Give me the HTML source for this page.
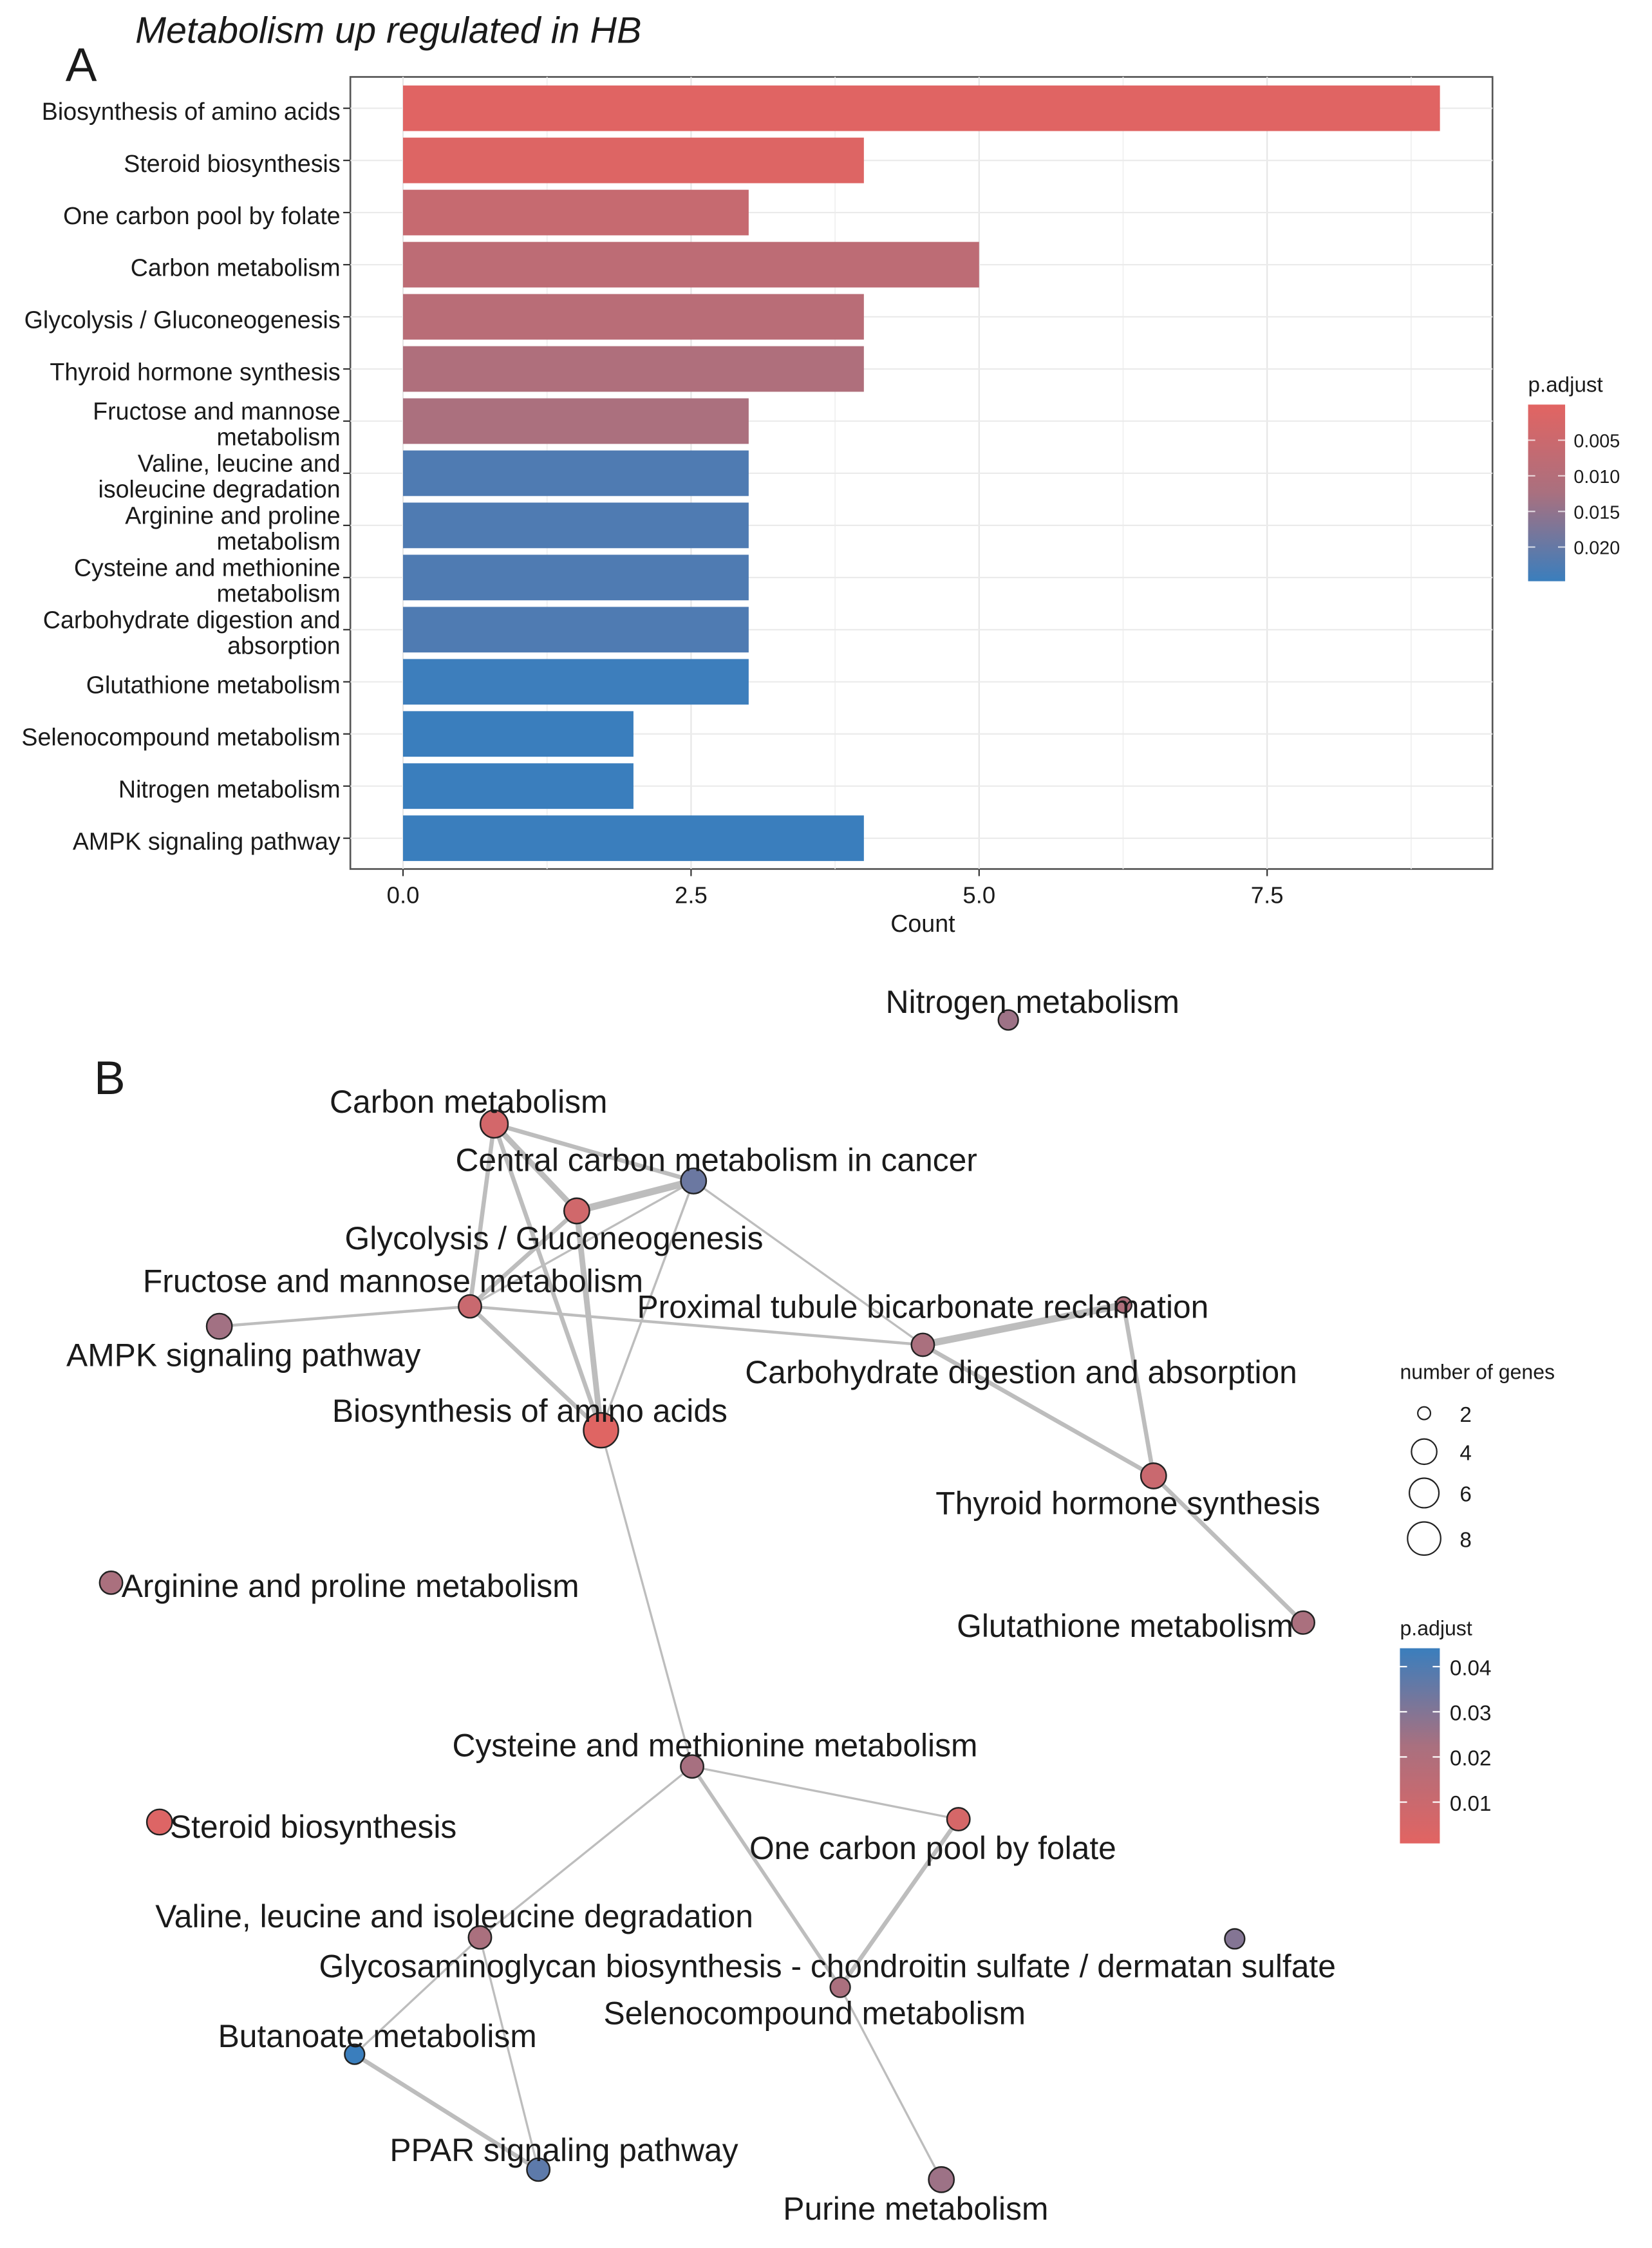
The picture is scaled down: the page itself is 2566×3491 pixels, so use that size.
<!DOCTYPE html>
<html><head><meta charset="utf-8"><style>
html,body{margin:0;padding:0;background:#fff}
svg{display:block}
text{font-family:"Liberation Sans",sans-serif;fill:#1a1a1a}
</style></head><body>
<svg id="fig" width="2566" height="3491" viewBox="0 0 1160 1578" preserveAspectRatio="none" xmlns="http://www.w3.org/2000/svg">
<defs>
<linearGradient id="gA" x1="0" y1="0" x2="0" y2="1"><stop offset="0" stop-color="#E26462"/><stop offset="0.5" stop-color="#A9707F"/><stop offset="1" stop-color="#3A7EBD"/></linearGradient>
<linearGradient id="gB" x1="0" y1="0" x2="0" y2="1"><stop offset="0" stop-color="#3A7EBD"/><stop offset="0.5" stop-color="#A9707F"/><stop offset="1" stop-color="#E26462"/></linearGradient>
</defs>
<text x="95" y="30" font-size="26" font-style="italic">Metabolism up regulated in HB</text>
<text x="46" y="57" font-size="33">A</text>
<rect x="246" y="54" width="802" height="556" fill="#fff" stroke="#555" stroke-width="1.2"/>
<g id="gridA"></g>
<g id="barsA"></g>
<text x="648" y="654" font-size="17" text-anchor="middle">Count</text>
<g>
<text x="1073" y="275" font-size="15">p.adjust</text>
<rect x="1073" y="284" width="26" height="124" fill="url(#gA)"/>
<g id="legAticks"></g>
</g>
<text x="66" y="768" font-size="33">B</text>
<g id="edges"></g>
<g id="nodes"></g>
<g>
<text x="983" y="968" font-size="14.5">number of genes</text>
<g id="sizeLeg"></g>
</g>
<g>
<text x="983" y="1148" font-size="14.5">p.adjust</text>
<rect x="983" y="1157" width="28" height="137" fill="url(#gB)"/>
<g id="legBticks"></g>
</g>
</svg>
<script>
const NS="http://www.w3.org/2000/svg";
const categories=["Biosynthesis of amino acids","Steroid biosynthesis","One carbon pool by folate","Carbon metabolism","Glycolysis / Gluconeogenesis","Thyroid hormone synthesis","Fructose and mannose|metabolism","Valine, leucine and|isoleucine degradation","Arginine and proline|metabolism","Cysteine and methionine|metabolism","Carbohydrate digestion and|absorption","Glutathione metabolism","Selenocompound metabolism","Nitrogen metabolism","AMPK signaling pathway"];
const counts=[9,4,3,5,4,4,3,3,3,3,3,3,2,2,4];
const padj=[0.0005,0.001,0.006,0.008,0.009,0.011,0.012,0.0225,0.0225,0.0225,0.0225,0.0245,0.025,0.025,0.025];
const xTicks=[0,2.5,5,7.5];
const xTickLabels=["0.0","2.5","5.0","7.5"];
const legATicks=[0.005,0.010,0.015,0.020];
const legATickLabels=["0.005","0.010","0.015","0.020"];

function mk(tag,attrs,parent){const e=document.createElementNS(NS,tag);for(const k in attrs)e.setAttribute(k,attrs[k]);parent.appendChild(e);return e;}
const xA=v=>283+v*80.9;
const yA=i=>76+i*36.6;
function lerp(a,b,t){return Math.round(a+(b-a)*t);}
function colA(p,maxp){const t=Math.max(0,Math.min(1,p/maxp));let c0=[226,100,98],c1=[169,112,127],c2=[58,126,189];let a,b,u;if(t<0.5){a=c0;b=c1;u=t*2}else{a=c1;b=c2;u=(t-0.5)*2}return `rgb(${lerp(a[0],b[0],u)},${lerp(a[1],b[1],u)},${lerp(a[2],b[2],u)})`;}

const grid=document.getElementById('gridA');
[1.25,3.75,6.25,8.75].forEach(v=>mk('line',{x1:xA(v),x2:xA(v),y1:54,y2:610,stroke:'#f0f0f0','stroke-width':0.8},grid));
xTicks.forEach((v,i)=>{mk('line',{x1:xA(v),x2:xA(v),y1:54,y2:610,stroke:'#e6e6e6','stroke-width':1},grid);
 mk('line',{x1:xA(v),x2:xA(v),y1:610,y2:615,stroke:'#333'},grid);
 const t=mk('text',{x:xA(v),y:634,'font-size':16.5,'text-anchor':'middle',fill:'#444'},grid);t.textContent=xTickLabels[i];});
const bars=document.getElementById('barsA');
categories.forEach((c,i)=>{mk('line',{x1:246,x2:1048,y1:yA(i),y2:yA(i),stroke:'#ebebeb'},grid);});
categories.forEach((c,i)=>{
 const r=mk('rect',{x:xA(0),y:yA(i)-16,width:xA(counts[i])-xA(0),height:32,fill:colA(padj[i],0.0248)},bars);
 
 
 mk('line',{x1:241,x2:246,y1:yA(i),y2:yA(i),stroke:'#333'},bars);
 const parts=c.split('|');
 parts.forEach((p,j)=>{const t=mk('text',{x:239,y:yA(i)+8+(parts.length==2?(j==0?-9:9):0),'font-size':17,'text-anchor':'end'},bars);t.textContent=p;
 
 });
});
const lat=document.getElementById('legAticks');
legATicks.forEach((v,i)=>{const y=284+v/0.005*25;mk('line',{x1:1073,x2:1078,y1:y,y2:y,stroke:'#fff','stroke-opacity':0.7},lat);mk('line',{x1:1094,x2:1099,y1:y,y2:y,stroke:'#fff','stroke-opacity':0.7},lat);
 const t=mk('text',{x:1105,y:y+5,'font-size':13},lat);t.textContent=legATickLabels[i];});

// network
const nodeNames=["Nitrogen metabolism","Carbon metabolism","Central carbon metabolism in cancer","Glycolysis / Gluconeogenesis","Fructose and mannose metabolism","AMPK signaling pathway","Proximal tubule bicarbonate reclamation","Carbohydrate digestion and absorption","Biosynthesis of amino acids","Thyroid hormone synthesis","Arginine and proline metabolism","Glutathione metabolism","Cysteine and methionine metabolism","Steroid biosynthesis","One carbon pool by folate","Valine, leucine and isoleucine degradation","Glycosaminoglycan biosynthesis - chondroitin sulfate / dermatan sulfate","Selenocompound metabolism","Butanoate metabolism","PPAR signaling pathway","Purine metabolism"];
const nodeX=[708,347,487,405,330,154,789,648,422,810,78,915,486,112,673,337,867,590,249,378,661];
const nodeY=[716,789,829,850,917,931,916,944,1004,1036,1111,1139,1240,1279,1277,1360,1361,1395,1442,1523,1530];
const nodeGenes=[2,5,4,4,3,4,1,3,9,4,3,3,3,4,3,3,2,2,2,3,4];
const nodePadj=[0.025,0.006,0.035,0.007,0.01,0.024,0.02,0.022,0.001,0.01,0.022,0.022,0.023,0.002,0.005,0.022,0.03,0.022,0.045,0.038,0.025];
const labelX=[725,329,503,389,276,171,648,717,372,792,246,790,502,220,655,319,581,572,265,396,643];
const labelY=[710,780,821,876,906,958,924,970,997,1062,1120,1148,1232,1289,1304,1352,1387,1420,1436,1516,1557];
const edgeFrom=[1,1,1,1,2,2,2,2,3,3,4,4,4,7,7,6,9,2,8,12,12,12,14,17,15,15,18];
const edgeTo=[2,3,4,8,3,8,4,7,8,4,5,7,8,6,9,9,11,8,12,14,15,17,17,20,18,19,19];
const edgeW=[3,4,3,3,5,1.5,1.5,1.5,4,3,2,2,3,5,3,3,3,1.5,1.5,1.5,1.5,2.5,3,1.5,1.5,1.5,3];

const eg=document.getElementById('edges');
edgeFrom.forEach((a,i)=>{const b=edgeTo[i];const l=mk('line',{x1:nodeX[a],y1:nodeY[a],x2:nodeX[b],y2:nodeY[b],stroke:'#bdbdbd','stroke-width':edgeW[i]},eg);
 
 });
const rad=g=>2.3+Math.sqrt(g)*3.3;
const ng=document.getElementById('nodes');
nodeNames.forEach((n,i)=>{
 const c=mk('circle',{cx:nodeX[i],cy:nodeY[i],r:rad(nodeGenes[i]),fill:colA(nodePadj[i],0.045),stroke:'#222','stroke-width':1.1},ng);
 
 
});
nodeNames.forEach((n,i)=>{
 const t=mk('text',{x:labelX[i],y:labelY[i]+1,'font-size':22.5,'text-anchor':'middle'},ng);t.textContent=n;
 
 
});
const sizeLegVals=[2,4,6,8];const sizeLegY=[992,1019,1048,1080];
const sl=document.getElementById('sizeLeg');
sizeLegVals.forEach((v,i)=>{mk('circle',{cx:1000,cy:sizeLegY[i],r:rad(v)-(i==0?2.5:0),fill:'none',stroke:'#222'},sl);const t=mk('text',{x:1025,y:sizeLegY[i]+6,'font-size':15},sl);t.textContent=v;});
const legBTicks=[0.04,0.03,0.02,0.01];
const lbt=document.getElementById('legBticks');
legBTicks.forEach(v=>{const y=1265-(v-0.01)/0.01*31.7;mk('line',{x1:983,x2:988,y1:y,y2:y,stroke:'#fff'},lbt);mk('line',{x1:1006,x2:1011,y1:y,y2:y,stroke:'#fff'},lbt);const t=mk('text',{x:1018,y:y+6,'font-size':15},lbt);t.textContent=v.toFixed(2);});
</script>
</body></html>
